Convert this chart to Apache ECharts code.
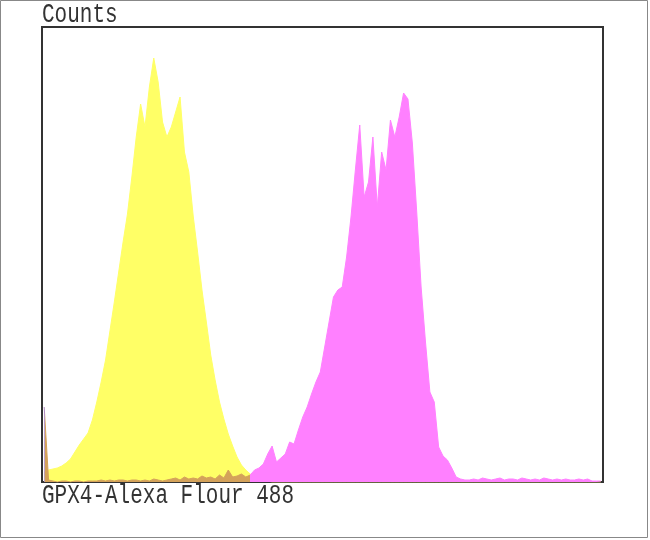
<!DOCTYPE html>
<html>
<head>
<meta charset="utf-8">
<script src="https://cdn.jsdelivr.net/npm/echarts@6/dist/echarts.min.js"></script>
<style>
  html, body { margin: 0; padding: 0; background: #fff; }
  #chart { width: 650px; height: 540px; }
</style>
</head>
<body>
<div id="chart"></div>
<script>
// Histogram settings: 1024 channels, 8 channels per bin -> 128 bins
const CHANNELS = 1024;
const BIN = 8;
const yTitle = 'Counts';
const xTitle = 'GPX4-Alexa Flour 488';

// Control (yellow) counts per bin
const controlCounts = [
  10,12,13,14,16,19,23,30,37,43,
  49,62,80,100,122,151,180,210,240,268,
  305,345,378,355,395,424,400,360,345,355,
  370,385,330,310,266,230,192,160,127,102,
  80,63,48,36,25,17,12,8,5,3,
  2,1,0,0,0,0,0,0,0,0,
  0,0,0,0,0,0,0,0,0,0,
  0,0,0,0,0,0,0,0,0,0,
  0,0,0,0,0,0,0,0,0,0,
  0,0,0,0,0,0,0,0,0,0,
  0,0,0,0,0,0,0,0,0,0,
  0,0,0,0,0,0,0,0,0,0,
  0,0,0,0,0,0,0,0
];

// GPX4 stained (magenta) counts per bin
const gpx4Counts = [
  75,2,1,0,1,1,0,1,1,0,
  1,1,1,2,1,2,1,2,2,1,
  2,2,1,2,1,3,2,1,2,3,
  4,2,5,3,4,3,6,4,5,3,
  7,4,12,5,6,8,5,7,12,14,
  18,28,36,20,24,28,40,38,52,65,
  75,88,100,110,135,160,185,192,195,225,
  265,312,357,285,300,345,275,330,312,362,
  345,365,389,383,339,270,195,140,90,80,
  35,26,22,14,5,3,2,2,3,2,
  4,3,2,3,4,2,3,3,2,4,
  3,2,3,2,4,3,2,3,2,3,
  2,2,3,2,3,1,1,1
];

const toPairs = arr => arr.map((c, i) => [i * BIN + BIN / 2, c]);

const chart = echarts.init(document.getElementById('chart'), null, { renderer: 'canvas' });

const labelFont = '21px "Liberation Mono", "DejaVu Sans Mono", monospace';

chart.setOption({
  backgroundColor: '#ffffff',
  animation: false,
  grid: {
    left: 42, right: 47, top: 27, bottom: 58,
    show: true, borderColor: '#333', borderWidth: 2,
    backgroundColor: 'transparent'
  },
  xAxis: {
    type: 'value', min: 0, max: CHANNELS,
    axisLine: { show: true, onZero: false, lineStyle: { color: '#333', width: 2 } },
    axisTick: { show: false }, axisLabel: { show: false }, splitLine: { show: false }
  },
  yAxis: {
    type: 'value', min: 0, max: 455,
    axisLine: { show: false }, axisTick: { show: false },
    axisLabel: { show: false }, splitLine: { show: false }
  },
  visualMap: {
    show: false,
    type: 'piecewise',
    seriesIndex: 1,
    dimension: 0,
    pieces: [
      { lt: 6, color: '#b08cc0' },
      { gte: 6, lt: 380, color: '#d4a25a' },
      { gte: 380, color: '#ff80ff' }
    ]
  },
  series: [
    {
      name: 'Control',
      type: 'line',
      data: toPairs(controlCounts),
      symbol: 'none',
      smooth: false,
      lineStyle: { color: '#ffff66', width: 1 },
      itemStyle: { color: '#ffff66' },
      areaStyle: { color: '#ffff66', opacity: 1 },
      z: 2
    },
    {
      name: 'GPX4',
      type: 'line',
      data: toPairs(gpx4Counts),
      symbol: 'none',
      smooth: false,
      lineStyle: { width: 1 },
      areaStyle: { opacity: 1 },
      z: 3
    }
  ],
  graphic: [
    {
      type: 'rect', z: 100, silent: true,
      shape: { x: 0.5, y: 0.5, width: 647, height: 537 },
      style: { fill: 'none', stroke: '#888', lineWidth: 1 }
    },
    {
      type: 'text', x: 42, y: 14.5, scaleY: 1.35, z: 100,
      style: { text: yTitle, font: labelFont, fill: '#333', verticalAlign: 'middle', align: 'left' }
    },
    {
      type: 'text', x: 42, y: 495.5, scaleY: 1.35, z: 100,
      style: { text: xTitle, font: labelFont, fill: '#333', verticalAlign: 'middle', align: 'left' }
    }
  ]
});
</script>
</body>
</html>
